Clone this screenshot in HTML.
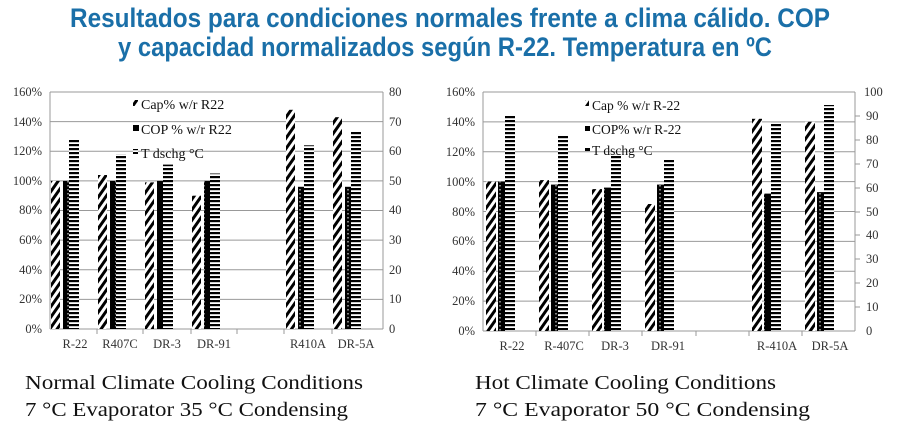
<!DOCTYPE html>
<html><head><meta charset="utf-8"><style>
html,body{margin:0;padding:0;background:#fff;width:900px;height:429px;overflow:hidden}
</style></head><body>
<svg width="900" height="429" viewBox="0 0 900 429" xmlns="http://www.w3.org/2000/svg">
<defs>
<pattern id="hatch" width="6" height="6" patternUnits="userSpaceOnUse" patternTransform="rotate(35)">
<rect width="6" height="6" fill="#fff"/><rect width="3" height="6" fill="#000"/></pattern>
<pattern id="hstr" width="4" height="4" patternUnits="userSpaceOnUse">
<rect width="4" height="4" fill="#fff"/><rect width="4" height="2.2" fill="#000"/></pattern>
<pattern id="cop" width="8" height="4" patternUnits="userSpaceOnUse">
<rect width="8" height="4" fill="#000"/><rect x="3.5" y="1" width="1" height="1.5" fill="#fff"/></pattern>
</defs>
<g font-family="Liberation Sans, sans-serif" font-weight="bold" fill="#1a6fa8" font-size="27">
<text x="450" y="27" text-anchor="middle" textLength="760" lengthAdjust="spacingAndGlyphs">Resultados para condiciones normales frente a clima cálido. COP</text>
<text x="445" y="56" text-anchor="middle" textLength="654" lengthAdjust="spacingAndGlyphs">y capacidad normalizados según R-22. Temperatura en ºC</text>
</g>
<!-- LEFT CHART -->
<g font-family="Liberation Serif, serif" font-size="12.5" fill="#333">
<g stroke="#999" stroke-width="1">
<line x1="50" y1="92" x2="383" y2="92"/><line x1="50" y1="121.6" x2="383" y2="121.6"/><line x1="50" y1="151.2" x2="383" y2="151.2"/><line x1="50" y1="180.9" x2="383" y2="180.9"/><line x1="50" y1="210.5" x2="383" y2="210.5"/><line x1="50" y1="240.1" x2="383" y2="240.1"/><line x1="50" y1="269.8" x2="383" y2="269.8"/><line x1="50" y1="299.4" x2="383" y2="299.4"/>
<line x1="50" y1="92" x2="50" y2="329"/><line x1="383" y1="92" x2="383" y2="329"/>
<line x1="50" y1="329" x2="383" y2="329"/>
<line x1="97" y1="329" x2="97" y2="334"/><line x1="143" y1="329" x2="143" y2="334"/><line x1="191" y1="329" x2="191" y2="334"/><line x1="237" y1="329" x2="237" y2="334"/><line x1="284" y1="329" x2="284" y2="334"/><line x1="332" y1="329" x2="332" y2="334"/>
</g>
<g text-anchor="end">
<text x="42" y="96">160%</text><text x="42" y="126">140%</text><text x="42" y="155">120%</text><text x="42" y="185">100%</text><text x="42" y="214">80%</text><text x="42" y="244">60%</text><text x="42" y="274">40%</text><text x="42" y="303">20%</text><text x="42" y="333">0%</text>
</g>
<g>
<text x="389" y="96">80</text><text x="389" y="126">70</text><text x="389" y="155">60</text><text x="389" y="185">50</text><text x="389" y="214">40</text><text x="389" y="244">30</text><text x="389" y="274">20</text><text x="389" y="303">10</text><text x="389" y="333">0</text>
</g>
<g text-anchor="middle">
<text x="75" y="348">R-22</text><text x="120" y="348">R407C</text><text x="167" y="348">DR-3</text><text x="214" y="348">DR-91</text><text x="308" y="348">R410A</text><text x="356" y="348">DR-5A</text>
</g>
<rect x="51" y="180.9" width="9" height="148.1" fill="url(#hatch)"/>
<rect x="63" y="180.9" width="7" height="148.1" fill="url(#cop)"/>
<rect x="69" y="139.4" width="10" height="189.6" fill="url(#hstr)"/>
<rect x="98" y="175" width="9" height="154" fill="url(#hatch)"/>
<rect x="110" y="180.9" width="7" height="148.1" fill="url(#cop)"/>
<rect x="116" y="154.2" width="10" height="174.8" fill="url(#hstr)"/>
<rect x="145" y="182.4" width="9" height="146.6" fill="url(#hatch)"/>
<rect x="157" y="180.9" width="7" height="148.1" fill="url(#cop)"/>
<rect x="163" y="164.6" width="10" height="164.4" fill="url(#hstr)"/>
<rect x="192" y="195.7" width="9" height="133.3" fill="url(#hatch)"/>
<rect x="204" y="180.9" width="7" height="148.1" fill="url(#cop)"/>
<rect x="210" y="173.5" width="10" height="155.5" fill="url(#hstr)"/>
<rect x="286" y="109.8" width="9" height="219.2" fill="url(#hatch)"/>
<rect x="298" y="186.8" width="7" height="142.2" fill="url(#cop)"/>
<rect x="304" y="145.3" width="10" height="183.7" fill="url(#hstr)"/>
<rect x="333" y="117.2" width="9" height="211.8" fill="url(#hatch)"/>
<rect x="345" y="186.8" width="7" height="142.2" fill="url(#cop)"/>
<rect x="351" y="130.5" width="10" height="198.5" fill="url(#hstr)"/>
<g font-size="14" fill="#111">
<rect x="133" y="100" width="5" height="6" fill="url(#hatch)"/><text x="141" y="109">Cap% w/r R22</text>
<rect x="133" y="125" width="6" height="6" fill="#000"/><text x="141" y="134">COP % w/r R22</text>
<rect x="133" y="149" width="5" height="5" fill="url(#hstr)"/><text x="141" y="158">T dschg °C</text>
</g>
</g>
<!-- RIGHT CHART -->
<g font-family="Liberation Serif, serif" font-size="12.5" fill="#333">
<g stroke="#999" stroke-width="1">
<line x1="483" y1="92" x2="855" y2="92"/><line x1="483" y1="121.9" x2="855" y2="121.9"/><line x1="483" y1="151.8" x2="855" y2="151.8"/><line x1="483" y1="181.6" x2="855" y2="181.6"/><line x1="483" y1="211.5" x2="855" y2="211.5"/><line x1="483" y1="241.4" x2="855" y2="241.4"/><line x1="483" y1="271.3" x2="855" y2="271.3"/><line x1="483" y1="301.1" x2="855" y2="301.1"/>
<line x1="483" y1="92" x2="483" y2="331"/><line x1="855" y1="92" x2="855" y2="331"/>
<line x1="483" y1="331" x2="855" y2="331"/>
<line x1="536" y1="331" x2="536" y2="336"/><line x1="589" y1="331" x2="589" y2="336"/><line x1="642" y1="331" x2="642" y2="336"/><line x1="696" y1="331" x2="696" y2="336"/><line x1="749" y1="331" x2="749" y2="336"/><line x1="802" y1="331" x2="802" y2="336"/>
<line x1="855" y1="116" x2="860" y2="116"/><line x1="855" y1="140" x2="860" y2="140"/><line x1="855" y1="164" x2="860" y2="164"/><line x1="855" y1="188" x2="860" y2="188"/><line x1="855" y1="212" x2="860" y2="212"/><line x1="855" y1="235" x2="860" y2="235"/><line x1="855" y1="259" x2="860" y2="259"/><line x1="855" y1="283" x2="860" y2="283"/><line x1="855" y1="307" x2="860" y2="307"/>
</g>
<g text-anchor="end">
<text x="475" y="96">160%</text><text x="475" y="126">140%</text><text x="475" y="156">120%</text><text x="475" y="186">100%</text><text x="475" y="216">80%</text><text x="475" y="245">60%</text><text x="475" y="275">40%</text><text x="475" y="305">20%</text><text x="475" y="335">0%</text>
</g>
<g>
<text x="864" y="96">100</text><text x="866" y="120">90</text><text x="866" y="144">80</text><text x="866" y="168">70</text><text x="866" y="192">60</text><text x="866" y="216">50</text><text x="866" y="239">40</text><text x="866" y="263">30</text><text x="866" y="287">20</text><text x="866" y="311">10</text><text x="866" y="335">0</text>
</g>
<g text-anchor="middle">
<text x="512" y="350">R-22</text><text x="564" y="350">R-407C</text><text x="615" y="350">DR-3</text><text x="668" y="350">DR-91</text><text x="777" y="350">R-410A</text><text x="830" y="350">DR-5A</text>
</g>
<rect x="486" y="181.6" width="10" height="149.4" fill="url(#hatch)"/>
<rect x="498" y="181.6" width="8" height="149.4" fill="url(#cop)"/>
<rect x="505" y="114.7" width="10" height="216.3" fill="url(#hstr)"/>
<rect x="539" y="180.1" width="10" height="150.9" fill="url(#hatch)"/>
<rect x="551" y="184.6" width="8" height="146.4" fill="url(#cop)"/>
<rect x="558" y="136" width="10" height="195" fill="url(#hstr)"/>
<rect x="592" y="189.1" width="10" height="141.9" fill="url(#hatch)"/>
<rect x="604" y="187.6" width="8" height="143.4" fill="url(#cop)"/>
<rect x="611" y="154" width="10" height="177" fill="url(#hstr)"/>
<rect x="645" y="204" width="10" height="127" fill="url(#hatch)"/>
<rect x="657" y="184.6" width="8" height="146.4" fill="url(#cop)"/>
<rect x="664" y="160" width="10" height="171" fill="url(#hstr)"/>
<rect x="752" y="118.8" width="10" height="212.2" fill="url(#hatch)"/>
<rect x="764" y="193.6" width="8" height="137.4" fill="url(#cop)"/>
<rect x="771" y="122" width="10" height="209" fill="url(#hstr)"/>
<rect x="805" y="121.8" width="10" height="209.2" fill="url(#hatch)"/>
<rect x="817" y="192.1" width="8" height="138.9" fill="url(#cop)"/>
<rect x="824" y="105" width="10" height="226" fill="url(#hstr)"/>
<g font-size="13.5" fill="#111">
<rect x="585" y="100" width="4" height="6" fill="url(#hatch)"/><text x="592" y="110">Cap % w/r R-22</text>
<rect x="585" y="126" width="5" height="5" fill="#000"/><text x="592" y="134">COP% w/r R-22</text>
<rect x="585" y="148" width="5" height="3" fill="#000"/><text x="592" y="155">T dschg °C</text>
</g>
</g>
<!-- captions -->
<g font-family="Liberation Serif, serif" font-size="20" fill="#111">
<text x="25" y="389" textLength="338" lengthAdjust="spacingAndGlyphs">Normal Climate Cooling Conditions</text>
<text x="25" y="416" textLength="323" lengthAdjust="spacingAndGlyphs">7 °C Evaporator 35 °C Condensing</text>
<text x="475" y="389" textLength="301" lengthAdjust="spacingAndGlyphs">Hot Climate Cooling Conditions</text>
<text x="475" y="416" textLength="335" lengthAdjust="spacingAndGlyphs">7 °C Evaporator   50 °C Condensing</text>
</g>
</svg>
</body></html>
